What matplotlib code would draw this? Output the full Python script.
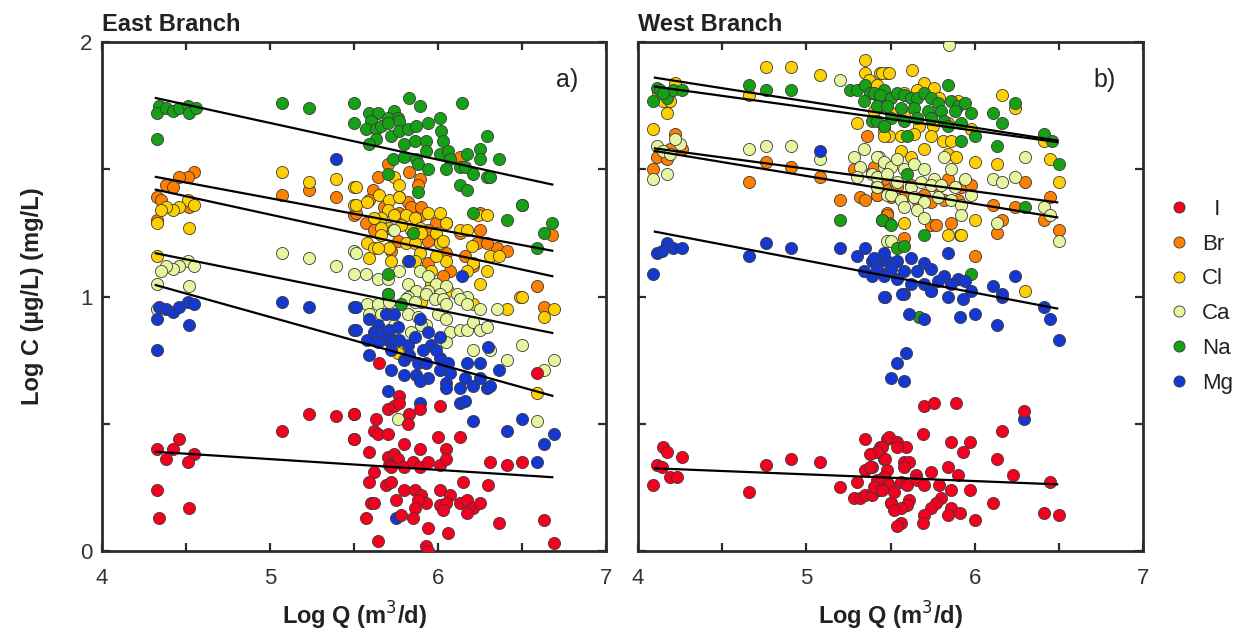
"""Log C vs Log Q scatter for East and West branches, with per-ion regression lines."""
import numpy as np
import matplotlib
matplotlib.use("Agg")
import matplotlib.pyplot as plt
from matplotlib.lines import Line2D
from matplotlib.ticker import MultipleLocator, FuncFormatter

plt.rcParams["font.family"] = ["Liberation Sans", "DejaVu Sans"]

ions = ["I", "Br", "Cl", "Ca", "Na", "Mg"]
colors = {"I": "#f5001e", "Br": "#ff7f00", "Cl": "#ffd000",
          "Ca": "#e6f5a0", "Na": "#16a016", "Mg": "#1438d0"}
draw_order = ["Br", "Cl", "Ca", "Na", "Mg", "I"]

# ---- East Branch: (log Q, log C) ----
east_I = [(4.46, 0.44), (4.33, 0.40), (4.42, 0.40), (4.38, 0.36), (4.55, 0.38), (4.51, 0.35),
          (4.33, 0.24), (4.52, 0.17), (4.34, 0.13), (5.07, 0.47), (5.23, 0.54), (5.39, 0.53),
          (5.50, 0.54), (5.50, 0.44),
          (5.65, 0.74), (5.50, 0.54), (5.63, 0.52), (5.70, 0.56), (5.74, 0.57), (5.77, 0.61),
          (5.77, 0.58), (5.83, 0.54), (5.89, 0.56), (6.01, 0.57), (5.62, 0.47), (5.64, 0.46),
          (5.70, 0.46), (5.82, 0.50), (5.50, 0.44), (5.80, 0.42), (5.89, 0.40), (6.00, 0.45),
          (6.13, 0.45), (6.05, 0.40), (5.59, 0.39), (5.70, 0.37), (5.74, 0.38), (5.76, 0.36),
          (5.80, 0.33), (5.71, 0.34), (5.85, 0.35), (5.89, 0.33), (5.94, 0.35), (6.01, 0.34),
          (6.05, 0.36), (5.62, 0.31), (5.72, 0.33), (5.59, 0.27), (5.69, 0.26), (5.72, 0.27),
          (5.80, 0.24), (5.86, 0.24), (5.90, 0.22), (5.93, 0.19), (5.88, 0.20), (5.86, 0.17),
          (6.01, 0.24), (6.07, 0.22), (6.01, 0.18), (6.05, 0.19), (6.03, 0.16), (6.13, 0.19),
          (6.17, 0.20), (6.21, 0.17), (6.25, 0.19), (6.17, 0.15), (6.15, 0.27), (6.30, 0.26),
          (6.31, 0.35), (6.41, 0.34), (6.50, 0.35), (5.60, 0.19), (5.62, 0.19), (5.75, 0.20),
          (5.57, 0.13), (5.78, 0.14), (5.85, 0.13), (5.94, 0.09), (6.06, 0.07), (6.36, 0.11),
          (6.63, 0.12), (5.64, 0.04), (5.93, 0.02), (5.94, 0.00), (6.69, 0.03), (6.59, 0.70)]

east_Br = [(4.55, 1.49), (4.51, 1.47), (4.46, 1.47), (4.38, 1.44), (4.42, 1.43), (4.33, 1.39),
           (4.35, 1.38), (4.52, 1.35), (4.33, 1.30), (5.07, 1.40), (5.23, 1.42), (5.39, 1.39),
           (5.50, 1.32),
           (6.13, 1.55), (5.70, 1.52), (5.83, 1.49), (5.89, 1.46), (5.88, 1.44), (5.64, 1.47),
           (5.61, 1.42), (5.77, 1.39), (5.59, 1.38), (5.51, 1.33), (5.57, 1.29), (5.68, 1.35),
           (5.82, 1.37), (5.84, 1.35), (5.77, 1.33), (5.90, 1.32), (5.99, 1.29), (5.94, 1.26),
           (6.05, 1.29), (6.13, 1.25), (6.25, 1.26), (6.25, 1.33), (6.23, 1.21), (6.35, 1.19),
           (6.41, 1.18), (6.29, 1.21), (6.16, 1.16), (6.05, 1.17), (6.07, 1.10), (5.94, 1.22),
           (5.76, 1.22), (5.72, 1.18), (5.62, 1.26), (5.94, 1.13), (6.03, 1.08), (6.21, 1.12),
           (6.50, 1.36), (6.68, 1.24), (6.59, 1.04), (5.90, 1.35), (6.01, 1.21), (6.63, 0.96)]

east_Cl = [(4.51, 1.38), (4.55, 1.36), (4.46, 1.35), (4.42, 1.34), (4.38, 1.35), (4.35, 1.34),
           (4.33, 1.29), (4.52, 1.27), (4.33, 1.16), (5.07, 1.49), (5.23, 1.45), (5.39, 1.46),
           (5.50, 1.43), (5.50, 1.36),
           (5.74, 1.47), (5.77, 1.44), (5.51, 1.43), (5.51, 1.36), (5.58, 1.37), (5.65, 1.40),
           (5.71, 1.38), (5.77, 1.39), (5.70, 1.34), (5.66, 1.31), (5.62, 1.31), (5.74, 1.32),
           (5.81, 1.32), (5.86, 1.31), (5.94, 1.33), (6.01, 1.33), (6.05, 1.29), (5.89, 1.27),
           (5.84, 1.26), (5.78, 1.28), (5.71, 1.27), (5.66, 1.27), (5.58, 1.21), (5.62, 1.19),
           (5.66, 1.24), (5.71, 1.19), (5.81, 1.21), (5.86, 1.21), (5.90, 1.25), (5.99, 1.25),
           (6.01, 1.21), (6.03, 1.22), (6.13, 1.26), (6.17, 1.26), (6.24, 1.32), (6.29, 1.32),
           (6.20, 1.20), (6.31, 1.16), (6.36, 1.16), (6.21, 1.13), (6.17, 1.10), (6.05, 1.14),
           (5.99, 1.16), (5.89, 1.17), (5.86, 1.14), (5.82, 1.14), (5.96, 1.10), (5.96, 1.05),
           (6.29, 1.10), (6.25, 1.05), (6.49, 1.00), (5.72, 1.14), (5.59, 1.15), (5.64, 1.19),
           (5.73, 1.26), (5.90, 0.98), (6.06, 1.02), (6.21, 0.97), (6.41, 0.95), (6.50, 1.00),
           (6.69, 0.95), (6.63, 0.92), (6.59, 0.62), (5.76, 0.78)]

east_Ca = [(4.51, 1.14), (4.55, 1.12), (4.46, 1.12), (4.42, 1.11), (4.38, 1.12), (4.35, 1.10),
           (4.33, 1.05), (4.52, 1.04), (4.33, 0.95), (5.07, 1.17), (5.23, 1.15), (5.39, 1.12),
           (5.50, 1.18), (5.50, 1.09),
           (5.74, 1.26), (5.51, 1.17), (5.57, 1.09), (5.64, 1.07), (5.70, 1.07), (5.77, 1.10),
           (5.82, 1.05), (5.89, 1.10), (5.94, 1.08), (5.99, 1.05), (6.05, 1.04), (6.11, 1.01),
           (6.17, 1.00), (5.87, 1.02), (5.94, 1.02), (6.01, 1.01), (5.70, 1.01), (5.82, 1.00),
           (5.58, 0.97), (5.64, 0.97), (5.71, 0.98), (5.81, 0.99), (5.86, 0.98), (5.93, 1.01),
           (5.98, 0.99), (6.03, 0.99), (6.05, 0.97), (6.13, 0.99), (6.17, 0.97), (6.25, 0.95),
           (6.35, 0.95), (5.59, 0.93), (5.66, 0.93), (5.74, 0.89), (5.82, 0.93), (5.88, 0.92),
           (5.93, 0.89), (6.00, 0.93), (6.05, 0.91), (6.07, 0.86), (6.13, 0.87), (6.17, 0.87),
           (6.21, 0.90), (6.25, 0.87), (6.29, 0.88), (6.05, 0.82), (6.21, 0.79), (6.31, 0.79),
           (6.41, 0.75), (6.50, 0.81), (6.63, 0.71), (6.69, 0.75), (6.59, 0.51), (5.76, 0.52),
           (5.90, 0.89), (5.84, 0.86)]

east_Na = [(4.34, 1.75), (4.33, 1.72), (4.38, 1.74), (4.42, 1.73), (4.46, 1.74), (4.51, 1.75),
           (4.52, 1.72), (4.56, 1.74), (4.33, 1.62), (5.07, 1.76), (5.23, 1.74), (5.50, 1.76),
           (5.50, 1.68),
           (5.59, 1.72), (5.64, 1.72), (5.74, 1.73), (5.83, 1.78), (5.89, 1.75), (6.14, 1.76),
           (5.70, 1.70), (5.76, 1.70), (5.77, 1.69), (5.60, 1.69), (5.57, 1.66), (5.63, 1.66),
           (5.66, 1.67), (5.70, 1.68), (5.72, 1.63), (5.77, 1.65), (5.82, 1.66), (5.87, 1.67),
           (5.94, 1.68), (6.01, 1.70), (5.63, 1.62), (5.59, 1.60), (5.80, 1.60), (5.86, 1.61),
           (5.93, 1.61), (6.02, 1.65), (6.03, 1.61), (6.29, 1.63), (5.73, 1.54), (5.80, 1.55),
           (5.87, 1.54), (5.88, 1.52), (5.93, 1.57), (6.01, 1.56), (6.06, 1.57), (6.07, 1.54),
           (6.17, 1.56), (6.25, 1.58), (6.25, 1.54), (6.36, 1.54), (5.94, 1.50), (6.05, 1.50),
           (6.13, 1.51), (6.16, 1.51), (6.21, 1.48), (6.29, 1.47), (6.31, 1.47), (6.13, 1.44),
           (6.17, 1.42), (5.70, 1.48), (5.88, 1.41), (6.50, 1.36), (6.21, 1.33), (6.41, 1.30),
           (6.68, 1.29), (6.63, 1.25), (6.59, 1.19), (5.85, 1.25), (5.70, 1.09), (5.70, 1.01),
           (5.78, 0.97)]

east_Mg = [(4.34, 0.96), (4.38, 0.95), (4.42, 0.94), (4.46, 0.96), (4.51, 0.98), (4.55, 0.97),
           (4.33, 0.91), (4.52, 0.89), (4.33, 0.79), (5.07, 0.98), (5.23, 0.96), (5.50, 0.96),
           (5.50, 0.87), (5.39, 1.54), (5.83, 1.14), (6.14, 1.08),
           (5.51, 0.96), (5.51, 0.87), (5.59, 0.91), (5.64, 0.89), (5.69, 0.93), (5.74, 0.93),
           (5.62, 0.86), (5.66, 0.86), (5.58, 0.83), (5.71, 0.87), (5.76, 0.88), (5.89, 0.91),
           (5.94, 0.86), (5.70, 0.83), (5.74, 0.83), (5.77, 0.83), (5.82, 0.81), (5.86, 0.84),
           (5.96, 0.81), (6.01, 0.84), (5.64, 0.82), (5.72, 0.79), (5.80, 0.75), (5.59, 0.77),
           (5.88, 0.74), (5.93, 0.74), (6.01, 0.76), (6.06, 0.74), (5.72, 0.71), (5.80, 0.69),
           (5.87, 0.69), (5.94, 0.68), (5.89, 0.67), (6.01, 0.71), (6.07, 0.70), (6.17, 0.74),
           (6.25, 0.74), (6.30, 0.80), (6.36, 0.71), (6.05, 0.66), (6.05, 0.64), (6.13, 0.64),
           (6.16, 0.68), (6.21, 0.65), (6.25, 0.68), (6.29, 0.64), (6.31, 0.65), (5.70, 0.63),
           (5.89, 0.58), (6.13, 0.58), (6.16, 0.59), (6.21, 0.51), (6.41, 0.47), (6.50, 0.52),
           (6.59, 0.35), (6.63, 0.42), (6.69, 0.46), (5.75, 0.13), (5.83, 0.77), (5.91, 0.79),
           (5.99, 0.79)]

# ---- West Branch: (log Q, log C) ----
west_I = [(4.15, 0.41), (4.17, 0.39), (4.26, 0.37), (4.11, 0.34), (4.14, 0.33), (4.19, 0.29),
          (4.23, 0.29), (4.09, 0.26), (4.66, 0.23), (4.76, 0.34), (4.91, 0.36), (5.08, 0.35),
          (5.20, 0.25), (5.30, 0.27), (5.28, 0.21), (5.32, 0.21), (5.35, 0.22), (5.39, 0.22),
          (5.35, 0.32), (5.39, 0.33), (5.35, 0.44), (5.42, 0.39), (5.44, 0.41), (5.46, 0.36),
          (5.48, 0.44), (5.41, 0.25), (5.44, 0.24), (5.46, 0.29), (5.48, 0.27), (5.50, 0.19),
          (5.70, 0.57), (5.76, 0.58), (5.89, 0.58), (6.29, 0.55), (6.16, 0.47), (5.69, 0.46),
          (5.49, 0.45), (5.54, 0.43), (5.59, 0.41), (5.54, 0.41), (5.45, 0.41), (5.42, 0.39),
          (5.86, 0.43), (5.97, 0.43), (5.93, 0.39), (6.13, 0.36), (5.38, 0.38), (5.47, 0.36),
          (5.48, 0.32), (5.58, 0.35), (5.61, 0.35), (5.58, 0.33), (5.84, 0.33), (5.74, 0.31),
          (5.65, 0.30), (5.38, 0.33), (5.46, 0.29), (5.90, 0.30), (6.23, 0.30), (6.45, 0.27),
          (5.42, 0.28), (5.49, 0.26), (5.56, 0.27), (5.60, 0.26), (5.66, 0.28), (5.70, 0.26),
          (5.79, 0.26), (5.86, 0.24), (5.97, 0.24), (5.40, 0.25), (5.45, 0.24), (5.52, 0.23),
          (5.80, 0.21), (5.61, 0.20), (5.60, 0.18), (5.56, 0.17), (5.50, 0.19), (5.52, 0.16),
          (5.77, 0.19), (5.74, 0.17), (5.86, 0.17), (5.91, 0.15), (5.84, 0.14), (6.11, 0.19),
          (5.70, 0.14), (5.69, 0.11), (5.56, 0.11), (5.54, 0.10), (6.00, 0.12), (6.41, 0.15),
          (6.50, 0.14)]

west_Br = [(4.22, 1.64), (4.11, 1.55), (4.17, 1.54), (4.19, 1.58), (4.26, 1.58), (4.09, 1.50),
           (4.76, 1.53), (4.91, 1.51), (5.08, 1.47), (4.66, 1.45), (5.20, 1.38), (5.36, 1.63),
           (5.28, 1.50), (5.32, 1.39), (5.35, 1.38), (5.42, 1.40), (5.48, 1.33), (5.39, 1.49),
           (5.46, 1.44),
           (5.40, 1.51), (5.46, 1.46), (5.54, 1.43), (5.62, 1.44), (5.70, 1.40), (5.78, 1.43),
           (5.84, 1.46), (5.92, 1.43), (5.98, 1.44), (5.42, 1.40), (5.50, 1.39), (5.58, 1.39),
           (5.66, 1.38), (5.74, 1.37), (5.82, 1.38), (5.90, 1.38), (5.48, 1.32), (5.74, 1.28),
           (5.77, 1.28), (5.86, 1.29), (5.91, 1.24), (6.00, 1.16), (6.11, 1.36), (6.24, 1.35),
           (6.30, 1.45), (6.41, 1.30), (6.45, 1.39), (6.50, 1.26), (6.16, 1.30), (6.13, 1.25),
           (5.58, 1.23)]

west_Cl = [(4.22, 1.84), (4.17, 1.72), (4.09, 1.66), (4.15, 1.77), (4.19, 1.77), (4.12, 1.80),
           (4.76, 1.90), (4.91, 1.90), (5.08, 1.87), (4.66, 1.79), (5.30, 1.68),
           (5.35, 1.93), (5.35, 1.88), (5.37, 1.85), (5.44, 1.88), (5.48, 1.88), (5.42, 1.82),
           (5.40, 1.73), (5.46, 1.65), (5.49, 1.63),
           (5.45, 1.88), (5.49, 1.88), (5.63, 1.89), (5.70, 1.84), (5.76, 1.82), (5.42, 1.83),
           (5.58, 1.80), (5.66, 1.81), (5.79, 1.78), (5.90, 1.77), (5.50, 1.72), (5.58, 1.71),
           (5.67, 1.67), (5.75, 1.67), (5.84, 1.68), (5.46, 1.63), (5.56, 1.63), (5.64, 1.64),
           (5.74, 1.63), (5.81, 1.61), (5.86, 1.61), (5.98, 1.66), (5.56, 1.57), (5.62, 1.55),
           (5.70, 1.58), (5.84, 1.56), (5.89, 1.55), (6.00, 1.53), (6.13, 1.52), (6.16, 1.79),
           (6.24, 1.74), (6.41, 1.61), (6.45, 1.54), (6.50, 1.45), (5.58, 1.29), (5.84, 1.24),
           (5.92, 1.24), (6.00, 1.30), (6.30, 1.02)]

west_Ca = [(4.11, 1.59), (4.15, 1.57), (4.19, 1.56), (4.25, 1.60), (4.22, 1.62), (4.09, 1.46),
           (4.17, 1.48), (5.20, 1.85), (4.66, 1.58), (4.76, 1.59), (4.91, 1.59), (5.08, 1.54),
           (5.34, 1.58), (5.28, 1.55), (5.32, 1.51), (5.30, 1.47), (5.39, 1.48), (5.43, 1.55),
           (5.46, 1.51), (5.42, 1.44), (5.48, 1.40), (5.48, 1.22),
           (5.42, 1.55), (5.46, 1.53), (5.50, 1.51), (5.54, 1.54), (5.58, 1.50), (5.64, 1.52),
           (5.70, 1.50), (5.76, 1.46), (5.82, 1.55), (5.86, 1.50), (5.42, 1.47), (5.48, 1.48),
           (5.54, 1.45), (5.62, 1.43), (5.68, 1.45), (5.74, 1.44), (5.80, 1.44), (5.88, 1.43),
           (5.94, 1.46), (5.98, 1.40), (5.42, 1.43), (5.50, 1.40), (5.56, 1.38), (5.64, 1.39),
           (5.70, 1.37), (5.78, 1.39), (5.86, 1.38), (5.92, 1.36), (5.66, 1.34), (5.58, 1.35),
           (5.70, 1.31), (5.92, 1.32), (6.30, 1.55), (6.11, 1.46), (6.16, 1.45), (6.24, 1.47),
           (6.41, 1.35), (6.45, 1.32), (6.50, 1.22), (5.50, 1.22), (6.13, 1.29), (5.85, 1.99)]

west_Na = [(4.11, 1.82), (4.13, 1.81), (4.17, 1.78), (4.21, 1.81), (4.26, 1.81), (4.09, 1.77),
           (4.15, 1.80), (4.66, 1.83), (4.76, 1.81), (4.91, 1.81), (5.20, 1.30),
           (5.26, 1.81), (5.30, 1.81), (5.35, 1.83), (5.38, 1.80), (5.42, 1.79), (5.46, 1.81),
           (5.34, 1.77), (5.39, 1.69), (5.46, 1.67), (5.48, 1.77), (5.43, 1.75), (5.45, 1.30),
           (5.49, 1.29),
           (5.40, 1.80), (5.44, 1.79), (5.50, 1.78), (5.54, 1.80), (5.58, 1.79), (5.62, 1.78),
           (5.66, 1.78), (5.70, 1.80), (5.74, 1.78), (5.78, 1.76), (5.84, 1.83), (5.86, 1.77),
           (5.90, 1.75), (5.94, 1.76), (5.98, 1.72), (5.42, 1.75), (5.48, 1.75), (5.56, 1.74),
           (5.64, 1.74), (5.72, 1.73), (5.80, 1.73), (5.88, 1.73), (5.42, 1.69), (5.50, 1.70),
           (5.58, 1.69), (5.66, 1.70), (5.74, 1.70), (5.82, 1.69), (5.92, 1.68), (5.46, 1.67),
           (5.60, 1.63), (5.84, 1.67), (6.00, 1.63), (5.92, 1.61), (6.13, 1.59), (6.11, 1.72),
           (6.16, 1.68), (6.24, 1.76), (6.41, 1.64), (6.46, 1.61), (6.50, 1.52), (5.60, 1.48),
           (6.30, 1.35), (5.45, 1.30), (5.50, 1.28), (5.54, 1.19), (5.58, 1.20), (5.70, 1.24),
           (5.98, 1.09), (5.67, 0.92)]

west_Mg = [(4.17, 1.21), (4.11, 1.17), (4.21, 1.19), (4.26, 1.19), (4.14, 1.18), (4.09, 1.09),
           (5.08, 1.57), (4.66, 1.16), (4.76, 1.21), (4.91, 1.19), (5.20, 1.19),
           (5.30, 1.16), (5.35, 1.19), (5.39, 1.14), (5.43, 1.14), (5.48, 1.14), (5.39, 1.08),
           (5.46, 1.09), (5.34, 1.10), (5.47, 1.00),
           (5.40, 1.15), (5.46, 1.17), (5.54, 1.14), (5.62, 1.15), (5.70, 1.13), (5.42, 1.11),
           (5.50, 1.11), (5.58, 1.10), (5.66, 1.10), (5.74, 1.11), (5.82, 1.08), (5.90, 1.07),
           (5.46, 1.08), (5.54, 1.07), (5.62, 1.05), (5.70, 1.05), (5.78, 1.06), (5.86, 1.05),
           (5.94, 1.06), (5.98, 1.02), (5.84, 1.17), (6.11, 1.04), (6.16, 1.00), (6.24, 1.08),
           (5.46, 1.00), (5.58, 1.01), (5.84, 1.00), (5.74, 1.02), (5.57, 1.01), (5.74, 1.02),
           (5.93, 0.99), (6.16, 1.01), (6.41, 0.96), (6.45, 0.91), (6.50, 0.83), (5.61, 0.93),
           (5.70, 0.91), (5.91, 0.92), (6.00, 0.93), (6.13, 0.89), (5.59, 0.78), (5.54, 0.74),
           (5.50, 0.68), (5.58, 0.67), (6.29, 0.52)]

# regression line end points, listed in `ions` order
east_fit_q = (4.32, 6.68)
east_fit_c0 = [0.39, 1.47, 1.42, 1.17, 1.78, 1.045]
east_fit_c1 = [0.29, 1.18, 1.08, 0.857, 1.44, 0.61]
west_fit_q = (4.10, 6.49)
west_fit_c0 = [0.325, 1.572, 1.825, 1.582, 1.86, 1.255]
west_fit_c1 = [0.262, 1.311, 1.607, 1.370, 1.613, 0.953]

east = dict(zip(ions, [east_I, east_Br, east_Cl, east_Ca, east_Na, east_Mg]))
west = dict(zip(ions, [west_I, west_Br, west_Cl, west_Ca, west_Na, west_Mg]))

DARK = "#2b2b2b"

fig = plt.figure(figsize=(12.55, 6.36), dpi=100)
ax_e = fig.add_axes([0.0813, 0.1336, 0.4016, 0.8003])
ax_w = fig.add_axes([0.5084, 0.1336, 0.4024, 0.8003])


def draw_panel(ax, data, fit_q, c0, c1, title, tag, ylabels):
    for ion in draw_order:
        pts = np.array(data[ion])
        ax.scatter(pts[:, 0], pts[:, 1], s=76, c=colors[ion],
                   edgecolors="#3a3a3a", linewidths=0.6, zorder=3)
    for a, b in zip(c0, c1):
        ax.plot(fit_q, (a, b), color="black", lw=1.6, zorder=4)
    ax.set_xlim(4, 7)
    ax.set_ylim(0, 2)
    ax.xaxis.set_major_locator(MultipleLocator(0.5))
    ax.yaxis.set_major_locator(MultipleLocator(0.5))
    int_only = FuncFormatter(lambda v, p: f"{v:.0f}" if abs(v - round(v)) < 1e-6 else "")
    ax.xaxis.set_major_formatter(int_only)
    if ylabels:
        ax.yaxis.set_major_formatter(int_only)
    else:
        ax.yaxis.set_major_formatter(FuncFormatter(lambda v, p: ""))
    ax.tick_params(direction="in", length=6, width=1.6, color=DARK,
                   top=True, right=True, labelsize=16, labelcolor="#333333")
    ax.tick_params(axis="x", pad=12)
    ax.tick_params(axis="y", pad=7)
    for sp in ax.spines.values():
        sp.set_linewidth(2.0)
        sp.set_color(DARK)
    ax.set_xlabel("Log Q (m$^3$/d)", fontsize=17, fontweight="bold", color="#222222", labelpad=8)
    ax.text(0.0, 1.012, title, transform=ax.transAxes, fontsize=17,
            fontweight="bold", color="#222222", ha="left", va="bottom")
    ax.text(0.945, 0.925, tag, transform=ax.transAxes, fontsize=18,
            color="#222222", ha="right", va="center")


draw_panel(ax_e, east, east_fit_q, east_fit_c0, east_fit_c1, "East Branch", "a)", True)
draw_panel(ax_w, west, west_fit_q, west_fit_c0, west_fit_c1, "West Branch", "b)", False)
ax_e.set_ylabel("Log C (\u00b5g/L) (mg/L)", fontsize=17, fontweight="bold",
                color="#222222", labelpad=26)

handles = [Line2D([], [], ls="none", marker="o", ms=8, mfc=colors[i],
                  mec="#3a3a3a", mew=0.6) for i in ions]
labels = ["  I", "Br", "Cl", "Ca", "Na", "Mg"]
fig.legend(handles, labels, loc="center left", bbox_to_anchor=(0.915, 0.534),
           frameon=False, fontsize=16, labelspacing=0.62, handletextpad=0.5,
           handlelength=1.0, labelcolor="#222222")

fig.savefig("out.png", dpi=100)
